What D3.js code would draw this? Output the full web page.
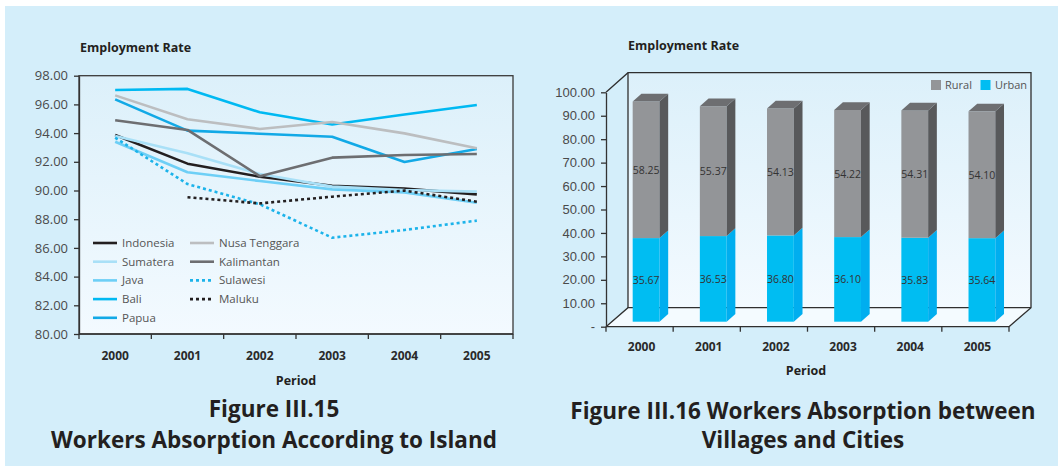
<!DOCTYPE html>
<html><head><meta charset="utf-8">
<script src="https://cdn.jsdelivr.net/npm/d3@7"></script>
<style>
html,body{margin:0;padding:0;background:#fff;}
svg{display:block;font-family:"Open Sans",sans-serif;}
</style></head>
<body>
<svg id="c" width="1058" height="466"></svg>
<script>
// ---------- DATA ----------
const years = ["2000","2001","2002","2003","2004","2005"];
const indonesia    = [93.87, 91.87, 90.96, 90.33, 90.13, 89.73];
const sumatera     = [93.80, 92.60, 91.15, 90.27, 90.03, 89.92];
const java         = [93.40, 91.27, 90.66, 90.08, 89.87, 89.15];
const bali         = [97.00, 97.08, 95.45, 94.60, 95.30, 95.96];
const papua        = [96.35, 94.17, 93.96, 93.75, 91.99, 92.89];
const nusaTenggara = [96.63, 94.96, 94.29, 94.77, 93.98, 92.94];
const kalimantan   = [94.89, 94.22, 91.00, 92.29, 92.47, 92.54];
const sulawesi     = [93.68, 90.45, 89.04, 86.71, 87.25, 87.90];
const maluku       = [null, 89.53, 89.10, 89.57, 89.99, 89.22];
const leftTicks = [80,82,84,86,88,90,92,94,96,98];

const rural = [58.25, 55.37, 54.13, 54.22, 54.31, 54.10];
const urban = [35.67, 36.53, 36.80, 36.10, 35.83, 35.64];
const rightTicks = [0,10,20,30,40,50,60,70,80,90,100];

const seriesNames = ["Indonesia","Sumatera","Java","Bali","Papua","Nusa Tenggara","Kalimantan","Sulawesi","Maluku"];
const seriesData = [indonesia,sumatera,java,bali,papua,nusaTenggara,kalimantan,sulawesi,maluku];

// ---------- STYLES ----------
const seriesColor = ["#231f20","#a9e0f7","#6dcff6","#00b9f2","#12a9e6","#bcbec0","#6d6e71","#1cb3ea","#231f20"];
const seriesDash  = [null,null,null,null,null,null,null,"3,3","3,3"];

const svg = d3.select("#c");
const defs = svg.append("defs");
const g1 = defs.append("linearGradient").attr("id","plotGrad").attr("x1",0).attr("y1",0).attr("x2",0).attr("y2",1);
g1.append("stop").attr("offset","0%").attr("stop-color","#dcf0fa");
g1.append("stop").attr("offset","100%").attr("stop-color","#f3faff");

// background
svg.append("rect").attr("width",1058).attr("height",466).attr("fill","#ffffff");
svg.append("rect").attr("x",5).attr("y",6).attr("width",1053).attr("height",460).attr("fill","#d4eefa");

// ================= LEFT CHART =================
const L = {x0:79, x1:513, y0:75.7, y1:334};
const xL = d3.scaleBand().domain(years).range([L.x0, L.x1]);
const yL = d3.scaleLinear().domain([80,98]).range([L.y1, L.y0]);

svg.append("rect").attr("x",L.x0).attr("y",L.y0).attr("width",L.x1-L.x0).attr("height",L.y1-L.y0)
  .attr("fill","url(#plotGrad)").attr("stroke","#3a3a3a").attr("stroke-width",1.3);

// y axis
const axL = svg.append("g").attr("transform",`translate(${L.x0},0)`)
  .call(d3.axisLeft(yL).tickValues(leftTicks).tickFormat(d3.format(".2f")).tickSize(5).tickSizeOuter(0).tickPadding(6));
axL.select(".domain").attr("stroke","#333").attr("stroke-width",1.3);
axL.selectAll(".tick line").attr("stroke","#333").attr("stroke-width",1.3);
axL.selectAll(".tick text").attr("font-size",13).attr("fill","#4a4a4a").attr("font-family","Open Sans");

// x axis
const bxL = svg.append("g");
bxL.append("line").attr("x1",L.x0).attr("x2",L.x1).attr("y1",L.y1).attr("y2",L.y1).attr("stroke","#333").attr("stroke-width",1.3);
d3.range(years.length+1).forEach(i=>{
  const xx = L.x0 + i*xL.step();
  bxL.append("line").attr("x1",xx).attr("x2",xx).attr("y1",L.y1).attr("y2",L.y1+5).attr("stroke","#333").attr("stroke-width",1.3);
});
bxL.selectAll("text.yr").data(years).join("text").attr("class","yr")
  .attr("x",d=>xL(d)+xL.bandwidth()/2).attr("y",360).attr("text-anchor","middle")
  .attr("font-size",12).attr("font-weight","bold").attr("fill","#2a2a2a").text(d=>d);

svg.append("text").attr("x",80).attr("y",52).attr("font-size",12.5).attr("font-weight","bold").attr("fill","#231f20").text("Employment Rate");
svg.append("text").attr("x",296).attr("y",385).attr("text-anchor","middle").attr("font-size",12.5).attr("font-weight","bold").attr("fill","#231f20").text("Period");

// lines
const line = d3.line().defined(d=>d.v!=null).x(d=>xL(d.y)+xL.bandwidth()/2).y(d=>yL(d.v));
seriesData.forEach((arr,i)=>{
  svg.append("path").datum(arr.map((v,j)=>({y:years[j],v})))
    .attr("d",line).attr("fill","none").attr("stroke",seriesColor[i]).attr("stroke-width",2.6)
    .attr("stroke-dasharray",seriesDash[i]).attr("stroke-linejoin","round");
});

// legend
const legCols = [{x:93, items:[0,1,2,3,4]},{x:190, items:[5,6,7,8]}];
legCols.forEach(col=>{
  col.items.forEach((si,r)=>{
    const yy = 243 + r*18.7;
    svg.append("line").attr("x1",col.x).attr("x2",col.x+24).attr("y1",yy).attr("y2",yy)
      .attr("stroke",seriesColor[si]).attr("stroke-width",2.6).attr("stroke-dasharray",seriesDash[si]);
    svg.append("text").attr("x",col.x+29).attr("y",yy+4).attr("font-size",11.5).attr("fill","#555").text(seriesNames[si]);
  });
});

// ================= RIGHT CHART =================
const R = {x0:606, x1:1009, y0:92.3, y1:326.7};
const D = {dx:22, dy:-19};           // wall depth
const B = {dx:6.5, dy:-5, ddx:8.7, ddy:-7.7}; // bar position/depth
const xR = d3.scaleBand().domain(years).range([R.x0, R.x1]);
const yR = d3.scaleLinear().domain([0,100]).range([R.y1, R.y0]);

// back wall
svg.append("rect").attr("x",R.x0+D.dx).attr("y",72.7).attr("width",R.x1-R.x0).attr("height",R.y1+D.dy-72.7)
  .attr("fill","url(#plotGrad)");
// floor
svg.append("polygon").attr("points",[[R.x0,R.y1],[R.x0+D.dx,R.y1+D.dy],[R.x1+D.dx,R.y1+D.dy],[R.x1,R.y1]].join(" "))
  .attr("fill","#f4fbff");
// frame lines
const fr = svg.append("g").attr("fill","none").attr("stroke","#2f2f2f").attr("stroke-width",1.3);
fr.append("polyline").attr("points",[[R.x0,yR(100)],[R.x0+D.dx,72.7],[R.x1+D.dx,72.7],[R.x1+D.dx,R.y1+D.dy],[R.x1,R.y1]].join(" "));
fr.append("polyline").attr("points",[[R.x0,R.y1],[R.x0+D.dx,R.y1+D.dy],[R.x1+D.dx,R.y1+D.dy]].join(" "));
fr.append("line").attr("x1",R.x0+D.dx).attr("x2",R.x0+D.dx).attr("y1",72.7).attr("y2",R.y1+D.dy);
fr.append("line").attr("x1",R.x0).attr("x2",R.x1).attr("y1",R.y1).attr("y2",R.y1);

// y axis
const axR = svg.append("g").attr("transform",`translate(${R.x0},0)`)
  .call(d3.axisLeft(yR).tickValues(rightTicks).tickFormat(d=>d===0?"-":d3.format(".2f")(d)).tickSize(5).tickSizeOuter(0).tickPadding(6));
axR.select(".domain").attr("stroke","#333").attr("stroke-width",1.3);
axR.selectAll(".tick line").attr("stroke","#333").attr("stroke-width",1.3);
axR.selectAll(".tick text").attr("font-size",13).attr("fill","#4a4a4a");

// x ticks
d3.range(years.length+1).forEach(i=>{
  const xx = R.x0 + i*xR.step();
  svg.append("line").attr("x1",xx).attr("x2",xx).attr("y1",R.y1).attr("y2",R.y1+5).attr("stroke","#333").attr("stroke-width",1.3);
});
svg.selectAll("text.yrR").data(years).join("text").attr("class","yrR")
  .attr("x",d=>xR(d)+xR.bandwidth()/2+2).attr("y",351).attr("text-anchor","middle")
  .attr("font-size",12).attr("font-weight","bold").attr("fill","#2a2a2a").text(d=>d);

svg.append("text").attr("x",628).attr("y",50).attr("font-size",12.5).attr("font-weight","bold").attr("fill","#231f20").text("Employment Rate");
svg.append("text").attr("x",806).attr("y",375).attr("text-anchor","middle").attr("font-size",12.5).attr("font-weight","bold").attr("fill","#231f20").text("Period");

// bars
const bw = 26.8;
years.forEach((yr,i)=>{
  const xl = xR(yr) + xR.bandwidth()/2 - bw/2 + B.dx;
  const y0 = yR(0) + B.dy;
  const yu = yR(urban[i]) + B.dy;
  const yt = yR(urban[i]+rural[i]) + B.dy;
  // urban
  svg.append("rect").attr("x",xl).attr("y",yu).attr("width",bw).attr("height",y0-yu).attr("fill","#00bdf2");
  svg.append("polygon").attr("points",[[xl+bw,y0],[xl+bw+B.ddx,y0+B.ddy],[xl+bw+B.ddx,yu+B.ddy],[xl+bw,yu]].join(" ")).attr("fill","#00aeef");
  // rural
  svg.append("rect").attr("x",xl).attr("y",yt).attr("width",bw).attr("height",yu-yt).attr("fill","#939598");
  svg.append("polygon").attr("points",[[xl+bw,yu],[xl+bw+B.ddx,yu+B.ddy],[xl+bw+B.ddx,yt+B.ddy],[xl+bw,yt]].join(" ")).attr("fill","#58595b");
  svg.append("polygon").attr("points",[[xl,yt],[xl+B.ddx,yt+B.ddy],[xl+bw+B.ddx,yt+B.ddy],[xl+bw,yt]].join(" ")).attr("fill","#6d6e71");
  // labels
  svg.append("text").attr("x",xl+bw/2).attr("y",(yu+yt)/2+4).attr("text-anchor","middle").attr("font-size",10.5).attr("fill","#333").text(rural[i].toFixed(2));
  svg.append("text").attr("x",xl+bw/2).attr("y",(y0+yu)/2+4).attr("text-anchor","middle").attr("font-size",10.5).attr("fill","#333").text(urban[i].toFixed(2));
});

// right legend
svg.append("rect").attr("x",931).attr("y",80).attr("width",10).attr("height",10).attr("fill","#939598");
svg.append("text").attr("x",945).attr("y",89).attr("font-size",11).attr("fill","#555").text("Rural");
svg.append("rect").attr("x",980.5).attr("y",80).attr("width",10).attr("height",10).attr("fill","#00bdf2");
svg.append("text").attr("x",995).attr("y",89).attr("font-size",11).attr("fill","#555").text("Urban");

// captions
const cap = svg.append("g").attr("font-weight","bold").attr("fill","#231f20").attr("font-size",22.5).attr("text-anchor","middle");
cap.append("text").attr("x",274).attr("y",417).text("Figure III.15");
cap.append("text").attr("x",274).attr("y",448).text("Workers Absorption According to Island");
cap.append("text").attr("x",803).attr("y",419).text("Figure III.16 Workers Absorption between");
cap.append("text").attr("x",803).attr("y",448).text("Villages and Cities");
</script>
</body></html>
